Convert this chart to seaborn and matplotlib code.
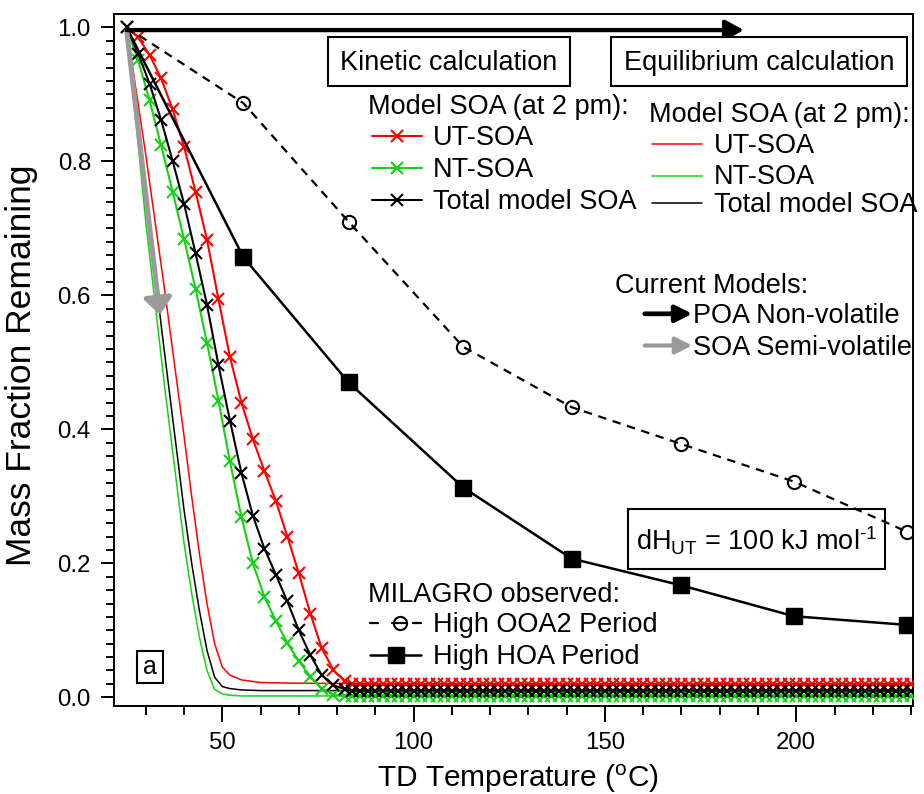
import matplotlib
matplotlib.use("Agg")
import matplotlib.pyplot as plt
import seaborn as sns
from matplotlib.lines import Line2D
from matplotlib.patches import Rectangle, FancyArrowPatch

# ---------------- data ----------------
T_KIN_STEEP = [25, 28, 31, 34, 37, 40, 43, 46, 49, 52, 55, 58, 61, 64, 67, 70, 73, 76, 79, 82]
UT_KIN_STEEP = [1.0, 0.985, 0.959, 0.924, 0.878, 0.822, 0.755, 0.683, 0.594, 0.508,
                0.440, 0.385, 0.338, 0.293, 0.240, 0.185, 0.125, 0.073, 0.041, 0.024]
NT_KIN_STEEP = [1.0, 0.951, 0.891, 0.824, 0.755, 0.684, 0.610, 0.529, 0.443, 0.352,
                0.269, 0.200, 0.150, 0.114, 0.081, 0.054, 0.031, 0.013, 0.004, 0.002]
TOT_KIN_STEEP = [1.0, 0.961, 0.916, 0.862, 0.801, 0.737, 0.663, 0.586, 0.496, 0.413,
                 0.335, 0.271, 0.222, 0.183, 0.143, 0.100, 0.063, 0.033, 0.018, 0.012]

T_KIN_FLAT = [84, 86, 88, 90, 92, 94, 96, 98, 100, 102,
              104, 106, 108, 110, 112, 114, 116, 118, 120, 122,
              124, 126, 128, 130, 132, 134, 136, 138, 140, 142,
              144, 146, 148, 150, 152, 154, 156, 158, 160, 162,
              164, 166, 168, 170, 172, 174, 176, 178, 180, 182,
              184, 186, 188, 190, 192, 194, 196, 198, 200, 202,
              204, 206, 208, 210, 212, 214, 216, 218, 220, 222,
              224, 226, 228, 230]
UT_KIN_FLAT = [0.020, 0.020, 0.020, 0.020, 0.020, 0.020, 0.020, 0.020, 0.020, 0.020,
               0.020, 0.020, 0.020, 0.020, 0.020, 0.020, 0.020, 0.020, 0.020, 0.020,
               0.020, 0.020, 0.020, 0.020, 0.020, 0.020, 0.020, 0.020, 0.020, 0.020,
               0.020, 0.020, 0.020, 0.020, 0.020, 0.020, 0.020, 0.020, 0.020, 0.020,
               0.020, 0.020, 0.020, 0.020, 0.020, 0.020, 0.020, 0.020, 0.020, 0.020,
               0.020, 0.020, 0.020, 0.020, 0.020, 0.020, 0.020, 0.020, 0.020, 0.020,
               0.020, 0.020, 0.020, 0.020, 0.020, 0.020, 0.020, 0.020, 0.020, 0.020,
               0.020, 0.020, 0.020, 0.020]
NT_KIN_FLAT = [0.002, 0.002, 0.002, 0.002, 0.002, 0.002, 0.002, 0.002, 0.002, 0.002,
               0.002, 0.002, 0.002, 0.002, 0.002, 0.002, 0.002, 0.002, 0.002, 0.002,
               0.002, 0.002, 0.002, 0.002, 0.002, 0.002, 0.002, 0.002, 0.002, 0.002,
               0.002, 0.002, 0.002, 0.002, 0.002, 0.002, 0.002, 0.002, 0.002, 0.002,
               0.002, 0.002, 0.002, 0.002, 0.002, 0.002, 0.002, 0.002, 0.002, 0.002,
               0.002, 0.002, 0.002, 0.002, 0.002, 0.002, 0.002, 0.002, 0.002, 0.002,
               0.002, 0.002, 0.002, 0.002, 0.002, 0.002, 0.002, 0.002, 0.002, 0.002,
               0.002, 0.002, 0.002, 0.002]
TOT_KIN_FLAT = [0.010, 0.010, 0.010, 0.010, 0.010, 0.010, 0.010, 0.010, 0.010, 0.010,
                0.010, 0.010, 0.010, 0.010, 0.010, 0.010, 0.010, 0.010, 0.010, 0.010,
                0.010, 0.010, 0.010, 0.010, 0.010, 0.010, 0.010, 0.010, 0.010, 0.010,
                0.010, 0.010, 0.010, 0.010, 0.010, 0.010, 0.010, 0.010, 0.010, 0.010,
                0.010, 0.010, 0.010, 0.010, 0.010, 0.010, 0.010, 0.010, 0.010, 0.010,
                0.010, 0.010, 0.010, 0.010, 0.010, 0.010, 0.010, 0.010, 0.010, 0.010,
                0.010, 0.010, 0.010, 0.010, 0.010, 0.010, 0.010, 0.010, 0.010, 0.010,
                0.010, 0.010, 0.010, 0.010]

T_EQ = [25, 30, 35, 40, 42, 44, 46, 48, 50, 52, 55, 60, 70, 100, 150, 230]
UT_EQ = [1.0, 0.81, 0.605, 0.39, 0.30, 0.215, 0.14, 0.08, 0.045, 0.033, 0.026, 0.022, 0.021, 0.020, 0.020, 0.020]
NT_EQ = [1.0, 0.71, 0.46, 0.23, 0.155, 0.09, 0.04, 0.012, 0.005, 0.003, 0.002, 0.002, 0.002, 0.002, 0.002, 0.002]
TOT_EQ = [1.0, 0.745, 0.51, 0.28, 0.20, 0.13, 0.07, 0.03, 0.016, 0.013, 0.011, 0.010, 0.010, 0.010, 0.010, 0.010]

T_OBS = [25, 55.5, 83, 113, 141.3, 170, 199.4, 229]
HOA_OBS = [1.0, 0.657, 0.470, 0.313, 0.207, 0.167, 0.121, 0.108]
OOA2_OBS = [1.0, 0.887, 0.710, 0.523, 0.433, 0.378, 0.322, 0.247]

X_TICKS = [50, 100, 150, 200]
Y_TICKS = [0.0, 0.2, 0.4, 0.6, 0.8, 1.0]

# annotation arrows (data coords): "current models" assumptions
POA_ARROW = ((25, 0.996), (186.3, 0.996))
SOA_ARROW = ((25, 0.996), (33.7, 0.571))

RED = "#ff0000"
GREEN = "#14d214"
GRAY = "#9a9a9a"

# ---------------- style ----------------
sns.set_theme(style="ticks")
plt.rcParams.update({
    "font.family": ["Liberation Sans", "DejaVu Sans"],
    "mathtext.fontset": "custom",
    "mathtext.rm": "Liberation Sans",
    "mathtext.it": "Liberation Sans:italic",
    "mathtext.bf": "Liberation Sans:bold",
    "text.color": "black",
    "axes.edgecolor": "black",
    "axes.labelcolor": "black",
    "xtick.color": "black",
    "ytick.color": "black",
    "axes.linewidth": 1.4,
})

W, H = 924, 794
fig = plt.figure(figsize=(W / 100, H / 100), dpi=100)
AX_L, AX_R, AX_T, AX_B = 114, 913, 14, 706
ax = fig.add_axes([AX_L / W, 1 - AX_B / H, (AX_R - AX_L) / W, (AX_B - AX_T) / H])

# equilibrium curves (thin lines)
for vals, col in [(UT_EQ, RED), (NT_EQ, GREEN), (TOT_EQ, "black")]:
    sns.lineplot(x=T_EQ, y=vals, ax=ax, color=col, lw=1.1, estimator=None,
                 sort=False, errorbar=None, legend=False, zorder=2)

# kinetic curves (lines with x markers)
for steep, flat, col in [(UT_KIN_STEEP, UT_KIN_FLAT, RED),
                         (NT_KIN_STEEP, NT_KIN_FLAT, GREEN),
                         (TOT_KIN_STEEP, TOT_KIN_FLAT, "black")]:
    sns.lineplot(x=T_KIN_STEEP + T_KIN_FLAT, y=steep + flat, ax=ax, color=col,
                 lw=1.5, marker="x", markersize=8.6, markeredgewidth=1.5,
                 markeredgecolor=col, estimator=None, sort=False,
                 errorbar=None, legend=False, zorder=3)

# observations
sns.lineplot(x=T_OBS, y=HOA_OBS, ax=ax, color="black", lw=1.8, marker="s",
             markersize=12, markeredgecolor="black", markerfacecolor="black",
             markeredgewidth=1.0, markevery=list(range(1, len(T_OBS))),
             estimator=None, sort=False, errorbar=None, legend=False, zorder=4)
sns.lineplot(x=T_OBS, y=OOA2_OBS, ax=ax, color="black", lw=1.6,
             linestyle=(0, (3.8, 3.0)), marker="o", markersize=9.5,
             markeredgecolor="black", markerfacecolor="none", markeredgewidth=1.5,
             markevery=list(range(1, len(T_OBS))),
             estimator=None, sort=False, errorbar=None, legend=False, zorder=4)

# "current models" arrows
ax.annotate("", xy=SOA_ARROW[1], xytext=SOA_ARROW[0],
            arrowprops=dict(arrowstyle="-|>,head_length=1.0,head_width=0.85",
                            mutation_scale=10, lw=3.6, color=GRAY,
                            shrinkA=0, shrinkB=0), zorder=6)
ax.annotate("", xy=POA_ARROW[1], xytext=POA_ARROW[0],
            arrowprops=dict(arrowstyle="-|>,head_length=1.1,head_width=0.6",
                            mutation_scale=10, lw=3.1, color="black",
                            shrinkA=0, shrinkB=0), zorder=7)

# axes
ax.set_xlim(21.7, 230.5)
ax.set_ylim(-0.013, 1.02)
ax.set_xticks(X_TICKS)
ax.set_xticks([30, 40, 60, 70, 80, 90, 110, 120, 130, 140, 160, 170, 180, 190,
               210, 220, 230], minor=True)
ax.set_yticks(Y_TICKS)
ax.set_yticks([i * 0.02 for i in range(51)], minor=True)
ax.set_yticklabels(["0.0", "0.2", "0.4", "0.6", "0.8", "1.0"])
ax.tick_params(axis="x", which="major", length=11.3, width=1.4, pad=7.2,
               labelsize=17.3, direction="out")
ax.tick_params(axis="x", which="minor", length=6.5, width=1.4, direction="out")
ax.tick_params(axis="y", which="major", length=9.4, width=1.4, pad=7.2,
               labelsize=17.3, direction="out")
ax.tick_params(axis="y", which="minor", length=5.8, width=1.4, direction="out")
for s in ax.spines.values():
    s.set_linewidth(1.4)
    s.set_color("black")
ax.set_facecolor("white")
ax.grid(False)

ax.set_xlabel(r"TD Temperature ($^{\mathrm{o}}$C)", fontsize=21.5, va="baseline")
ax.xaxis.set_label_coords((518 - AX_L) / (AX_R - AX_L), (AX_B - 786.7) / (AX_B - AX_T))
ax.set_ylabel("Mass Fraction Remaining", fontsize=25.5, va="center")
ax.yaxis.set_label_coords((21.7 - AX_L) / (AX_R - AX_L), (AX_B - 365) / (AX_B - AX_T))


# ---------------- annotations in pixel coordinates ----------------
def fx(x):
    return x / W


def fy(y):
    return 1 - y / H


FS = 19.5


def txt(x, y, s, size=FS, ha="left", va="baseline"):
    fig.text(fx(x), fy(y), s, fontsize=size, ha=ha, va=va, color="black",
             zorder=9)


def box(x0, y0, x1, y1, lw=1.5, fill=False):
    fig.add_artist(Rectangle((fx(x0), fy(y1)), (x1 - x0) / W, (y1 - y0) / H,
                             transform=fig.transFigure, fill=fill, fc="white",
                             ec="black", lw=lw, zorder=5))


def seg(x0, x1, y, col, lw, **kw):
    fig.add_artist(Line2D([fx(x0), fx(x1)], [fy(y), fy(y)], color=col, lw=lw,
                          transform=fig.transFigure, zorder=6, **kw))


def mark(x, y, **kw):
    fig.add_artist(Line2D([fx(x)], [fy(y)], transform=fig.transFigure,
                          zorder=7, linestyle="none", **kw))


def arrow(x0, x1, y, col, lw):
    fig.add_artist(FancyArrowPatch((fx(x0), fy(y)), (fx(x1), fy(y)),
                                   transform=fig.transFigure,
                                   arrowstyle="-|>,head_length=1.0,head_width=0.5",
                                   mutation_scale=10, lw=lw, color=col,
                                   shrinkA=0, shrinkB=0, zorder=6))


# title boxes
box(328.3, 36.7, 570, 86, fill=True)
txt(449, 70.5, "Kinetic calculation", ha="center")
box(610.8, 36.7, 907.4, 86, fill=True)
txt(759, 70.5, "Equilibrium calculation", ha="center")

# kinetic legend
txt(368.3, 113.5, "Model SOA (at 2 pm):")
for yy, col, lab in [(136, RED, "UT-SOA"), (167.7, GREEN, "NT-SOA"),
                     (200, "black", "Total model SOA")]:
    seg(372, 421.7, yy, col, 1.5)
    mark(396.8, yy, marker="x", markersize=8.6, markeredgewidth=1.5,
         markeredgecolor=col)
    txt(432.7, yy + 9, lab)

# equilibrium legend
txt(649.4, 122, "Model SOA (at 2 pm):")
for yy, col, lab in [(144, RED, "UT-SOA"), (175.5, GREEN, "NT-SOA"),
                     (203, "black", "Total model SOA")]:
    seg(652, 702, yy, col, 1.1)
    txt(713.7, yy + 9, lab)

# current models legend
txt(615, 293.3, "Current Models:")
arrow(644.7, 692.3, 313.8, "black", 3.4)
txt(693, 323.3, "POA Non-volatile")
arrow(644.7, 692.3, 345.5, GRAY, 3.0)
txt(693, 355, "SOA Semi-volatile")

# dH box
box(628, 509.3, 884.5, 569.3)
txt(635.7, 550.7, r"dH$_{\mathrm{UT}}$ = 100 kJ mol$^{\mathrm{{\text{-}}1}}$")

# MILAGRO legend
txt(368.4, 601.7, "MILAGRO observed:")
seg(369.6, 377.6, 622.7, "black", 1.6)
seg(391.5, 407.4, 622.7, "black", 1.6)
seg(413.4, 421.4, 622.7, "black", 1.6)
mark(399.5, 622.7, marker="o", markersize=9.5, markeredgewidth=1.5,
     markeredgecolor="black", markerfacecolor="none")
txt(433.3, 631.7, "High OOA2 Period")
seg(369.6, 421.4, 655, "black", 1.8)
mark(395.5, 655, marker="s", markersize=12, markeredgecolor="black",
     markerfacecolor="black")
txt(433.3, 664, "High HOA Period")

# panel label
box(136.7, 650.7, 162.7, 682.7)
txt(149.7, 666.7, "a", size=18, ha="center", va="center")

fig.savefig("out.png", dpi=100, facecolor="white")
